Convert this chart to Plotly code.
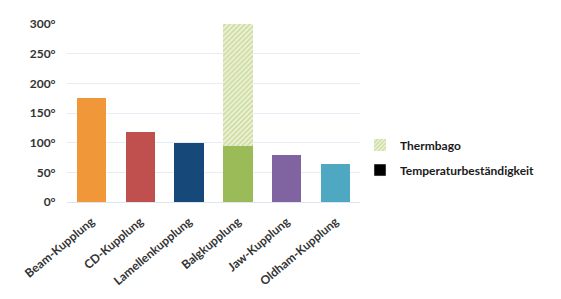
import plotly.graph_objects as go

categories = ["Beam-Kupplung", "CD-Kupplung", "Lamellenkupplung", "Balgkupplung", "Jaw-Kupplung", "Oldham-Kupplung"]
temperatur = [176, 118, 99, 94, 79, 64]
thermbago = [0, 0, 0, 206, 0, 0]
bar_colors = ["#F0973A", "#C0504D", "#17487A", "#9BBB59", "#8064A2", "#4FA8C2"]
y_ticks = [0, 50, 100, 150, 200, 250, 300]
y_tick_labels = [f"<b>{v}°</b>" for v in y_ticks]
x_tick_labels = [f"<b>{c}</b>" for c in categories]

font = "Lato"
fig = go.Figure()
fig.add_trace(go.Bar(
    x=categories, y=temperatur, marker=dict(color=bar_colors, line=dict(width=0)),
    showlegend=False, width=0.6, name="Temperaturbeständigkeit"))
fig.add_trace(go.Bar(
    x=categories, y=thermbago, name="<b>Thermbago</b>", width=0.6, legendgroup="g1",
    marker=dict(color="#ffffff", line=dict(width=0),
                pattern=dict(shape="/", fgcolor="#A9C263", bgcolor="#EEF4DA", size=3.5, solidity=0.5)),
    legendrank=1))
fig.add_trace(go.Bar(
    x=[None], y=[None], name="<b>Temperaturbeständigkeit</b>", legendgroup="g2",
    marker=dict(color="#000000"), legendrank=2))

fig.update_layout(
    width=561, height=299, barmode="stack",
    margin=dict(l=59, r=209, t=16, b=105, autoexpand=False),
    paper_bgcolor="white", plot_bgcolor="white",
    font=dict(family=font, size=12, color="#333333"),
    legend=dict(x=1.0, y=0.25, xanchor="left", yanchor="middle",
                font=dict(family=font, size=12, color="#1a1a1a"),
                itemwidth=30, tracegroupgap=6, traceorder="grouped"),
    xaxis=dict(tickangle=-40, tickmode="array", tickvals=categories, ticktext=x_tick_labels,
               tickfont=dict(family=font, size=12, color="#333333"), automargin=False,
               showline=True, linecolor="#DDE5EE", linewidth=1,
               ticks="outside", ticklen=7, tickcolor="rgba(0,0,0,0)", showgrid=False),
    yaxis=dict(range=[0, 300], tickvals=y_ticks, ticktext=y_tick_labels, automargin=False,
               tickfont=dict(family=font, size=12, color="#333333"),
               showgrid=True, gridcolor="#E6EDF5", gridwidth=1, zeroline=False,
               ticks="outside", ticklen=8, tickcolor="rgba(0,0,0,0)"),
    bargap=0.4,
)
fig.write_html("out.html")
